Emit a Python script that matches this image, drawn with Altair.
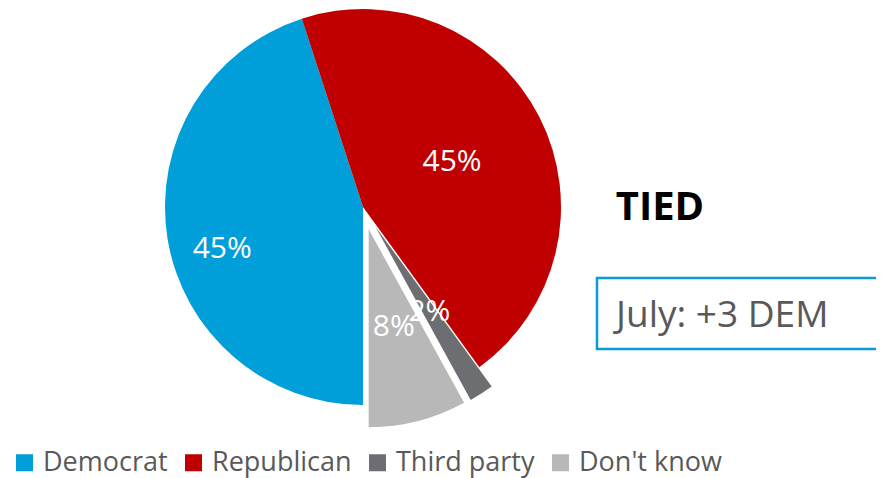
import math
import altair as alt
import pandas as pd

# ---- data ----
parties = ["Democrat", "Republican", "Third party", "Don't know"]
shares = [45, 45, 2, 8]
labels = ["45%", "45%", "2%", "8%"]
draw_order = [4, 1, 2, 3]          # clockwise order around the pie
colors = ["#009FDA", "#C00000", "#6D6E71", "#B8B8B9"]

headline = "TIED"
prior = "July: +3 DEM"

df = pd.DataFrame({"party": parties, "share": shares, "label": labels, "order": draw_order})

FONT = "Open Sans"
start_angle = -math.pi / 10   # first slice starts at -18 degrees
theta_scale = alt.Scale(domain=[0, 100], range=[start_angle, 2 * math.pi + start_angle])
color_scale = alt.Scale(domain=parties, range=colors)

legend = alt.Legend(
    title=None, orient="none", direction="horizontal", legendX=3, legendY=441,
    symbolType="square", symbolSize=289, symbolStrokeWidth=0, symbolOpacity=1,
    labelFont=FONT, labelFontSize=27, labelColor="#595959", labelOffset=5,
    columnPadding=12, labelLimit=400, padding=0,
)

base = alt.Chart(df).transform_window(
    end="sum(share)", sort=[alt.SortField("order")], frame=[None, 0]
).transform_calculate(
    start="datum.end - datum.share",
    mid="datum.end - datum.share / 2",
)


def only(names):
    return alt.FieldOneOfPredicate(field="party", oneOf=names)


def arc_layer(names, dx=0.0, dy=0.0):
    return base.transform_filter(only(names)).mark_arc(
        radius=198, xOffset=dx, yOffset=dy
    ).encode(
        theta=alt.Theta("start:Q", stack=None, scale=theta_scale),
        theta2="end:Q",
        color=alt.Color("party:N", scale=color_scale, legend=legend),
    )


def text_layer(names, r, dx=0.0, dy=0.0, dtheta=0.0):
    return base.transform_filter(only(names)).mark_text(
        radius=r, xOffset=dx, yOffset=dy, thetaOffset=dtheta,
        font=FONT, fontSize=30, color="white", align="center", baseline="middle",
    ).encode(
        theta=alt.Theta("mid:Q", stack=None, scale=theta_scale),
        text="label:N",
    )


arcs_main = arc_layer(["Democrat", "Republican"])
arc_third = arc_layer(["Third party"], 12.3, 19.4)
arc_dk = arc_layer(["Don't know"], 5.7, 22.3)

txt_rep = text_layer(["Republican"], 100)
txt_dem = text_layer(["Democrat"], 147, dtheta=-0.136)
txt_dk = text_layer(["Don't know"], 101, 5.7, 22.3)
txt_third = text_layer(["Third party"], 101, 12.3, 19.4)

ann = pd.DataFrame({"headline": [headline], "prior": [prior]})
tied = alt.Chart(ann).mark_text(
    font=FONT, fontSize=40, fontWeight="bold", color="black", align="center", baseline="alphabetic"
).encode(x=alt.value(652), y=alt.value(212), text="headline:N")

box = alt.Chart(ann).mark_rect(fill="white", stroke="#0A9BD5", strokeWidth=2.5).encode(
    x=alt.value(589), x2=alt.value(900), y=alt.value(270), y2=alt.value(341)
)
box_text = alt.Chart(ann).mark_text(
    font=FONT, fontSize=37, color="#595959", align="left", baseline="alphabetic"
).encode(x=alt.value(608), y=alt.value(319), text="prior:N")

chart = alt.layer(
    arcs_main, arc_third, arc_dk, txt_rep, txt_dem, txt_dk, txt_third, tied, box, box_text
).properties(
    width=710, height=398,
    padding={"left": 0, "top": 0, "right": 158, "bottom": 72},
    autosize=alt.AutoSizeParams(type="none"),
).configure_view(stroke=None)

chart.save("out.html", embed_options={"renderer": "svg", "actions": False})
